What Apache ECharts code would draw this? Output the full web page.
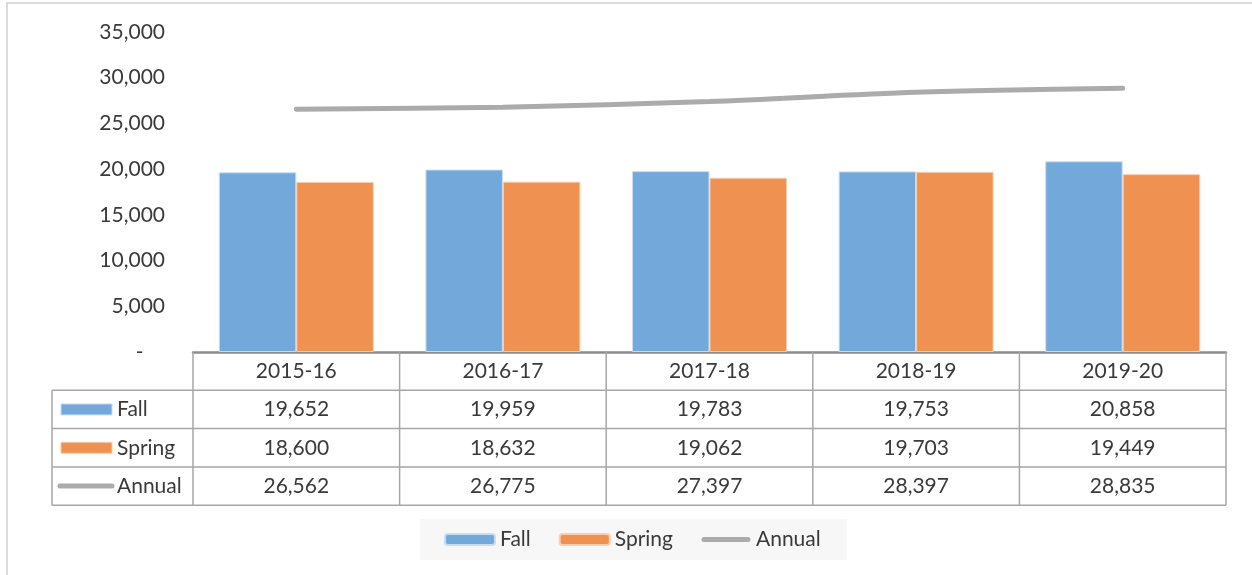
<!DOCTYPE html>
<html>
<head>
<meta charset="utf-8">
<script src="https://cdn.jsdelivr.net/npm/echarts@6/dist/echarts.min.js"></script>
<style>
  html, body { margin: 0; padding: 0; background: #fff; }
  #chart { width: 1252px; height: 575px; }
</style>
</head>
<body>
<div id="chart"></div>
<script>
var categories = ['2015-16', '2016-17', '2017-18', '2018-19', '2019-20'];
var fall = [19652, 19959, 19783, 19753, 20858];
var spring = [18600, 18632, 19062, 19703, 19449];
var annual = [26562, 26775, 27397, 28397, 28835];
var seriesNames = ['Fall', 'Spring', 'Annual'];

var FONT = 'Lato';
var FS = 21;
var TEXT = '#3a3a3a';
var BLUE = '#72a8da';
var ORANGE = '#ef9150';
var GREY = '#ababab';
var GRID_LINE = '#a6a6a6';

// thin rounded bar inside a 50x11 box (the two M points fix the box)
var LINE_ICON = 'path://M0 0M50 11M3 3L47 3A2.5 2.5 0 0 1 47 8L3 8A2.5 2.5 0 0 1 3 3Z';

function fmt (v) {
  return v.toLocaleString('en-US');
}

var chart = echarts.init(document.getElementById('chart'));

var option = {
  animation: false,
  textStyle: { fontFamily: FONT },
  grid: { left: 193, right: 26, top: 32, bottom: 223 },
  legend: {
    data: [
      { name: 'Fall' },
      { name: 'Spring' },
      { name: 'Annual', icon: LINE_ICON, itemStyle: { color: GREY } }
    ],
    left: 420,
    top: 519,
    backgroundColor: '#f7f7f7',
    padding: [10, 26, 10, 24],
    itemGap: 28,
    itemWidth: 50,
    itemHeight: 11,
    textStyle: { fontSize: FS, color: TEXT, fontFamily: FONT }
  },
  xAxis: {
    type: 'category',
    data: categories,
    axisLine: { lineStyle: { color: '#8c8c8c', width: 2.5 } },
    axisTick: { show: false },
    axisLabel: { margin: 9, fontSize: FS, color: TEXT, fontFamily: FONT }
  },
  yAxis: {
    type: 'value',
    min: 0,
    max: 35000,
    interval: 5000,
    splitLine: { show: false },
    axisLine: { show: false },
    axisTick: { show: false },
    axisLabel: {
      margin: 28,
      fontSize: FS,
      color: TEXT,
      fontFamily: FONT,
      formatter: function (v) { return v === 0 ? '-    ' : fmt(v); }
    }
  },
  series: [
    {
      name: 'Fall',
      type: 'bar',
      data: fall,
      barGap: '0%',
      barCategoryGap: '25%',
      itemStyle: { color: BLUE, borderColor: '#c7ddf2', borderWidth: 1 }
    },
    {
      name: 'Spring',
      type: 'bar',
      data: spring,
      itemStyle: { color: ORANGE, borderColor: '#f8cdb0', borderWidth: 1 }
    },
    {
      name: 'Annual',
      type: 'line',
      data: annual,
      smooth: 0.3,
      symbol: 'none',
      lineStyle: { color: GREY, width: 5, cap: 'round' },
      itemStyle: { color: GREY }
    }
  ]
};

chart.setOption(option);

// data table under the x axis
var xa = chart.convertToPixel({ xAxisIndex: 0 }, 0);
var xb = chart.convertToPixel({ xAxisIndex: 0 }, 1);
var band = xb - xa;
var left = xa - band / 2;
var right = left + band * categories.length;
var y0 = chart.convertToPixel({ yAxisIndex: 0 }, 0);
var rowH = 38.3;
var tableLeft = 52;
var rows = [fall, spring, annual];
var els = [];

function line (x1, y1, x2, y2) {
  els.push({
    type: 'line',
    shape: { x1: x1, y1: y1, x2: x2, y2: y2 },
    style: { stroke: GRID_LINE, lineWidth: 1.5 },
    z: 5
  });
}
function text (str, x, y, align) {
  els.push({
    type: 'text',
    x: x,
    y: y,
    style: {
      text: str,
      fill: TEXT,
      font: FS + 'px ' + FONT,
      align: align,
      verticalAlign: 'middle'
    },
    z: 6
  });
}

// outer chart frame
els.push({
  type: 'rect',
  shape: { x: 7, y: 3, width: 1260, height: 600 },
  style: { fill: null, stroke: '#cfcfcf', lineWidth: 1.5 },
  z: 0
});

// vertical lines
for (var i = 0; i <= categories.length; i++) {
  line(left + band * i, y0, left + band * i, y0 + rowH * 4);
}
line(tableLeft, y0 + rowH, tableLeft, y0 + rowH * 4);
// horizontal lines
for (var r = 1; r <= 4; r++) {
  line(tableLeft, y0 + rowH * r, right, y0 + rowH * r);
}

// rows
rows.forEach(function (vals, ri) {
  var cy = y0 + rowH * (ri + 1.5);
  if (ri < 2) {
    els.push({
      type: 'rect',
      shape: { x: 61, y: cy - 5.5, width: 51, height: 11 },
      style: { fill: ri === 0 ? BLUE : ORANGE, stroke: ri === 0 ? '#c7ddf2' : '#f8cdb0', lineWidth: 1 },
      z: 6
    });
  } else {
    els.push({
      type: 'line',
      shape: { x1: 60, y1: cy, x2: 112, y2: cy },
      style: { stroke: GREY, lineWidth: 5, lineCap: 'round' },
      z: 6
    });
  }
  text(seriesNames[ri], 117, cy, 'left');
  vals.forEach(function (v, ci) {
    text(fmt(v), left + band * (ci + 0.5), cy, 'center');
  });
});

chart.setOption({ graphic: { elements: els } });
</script>
</body>
</html>
